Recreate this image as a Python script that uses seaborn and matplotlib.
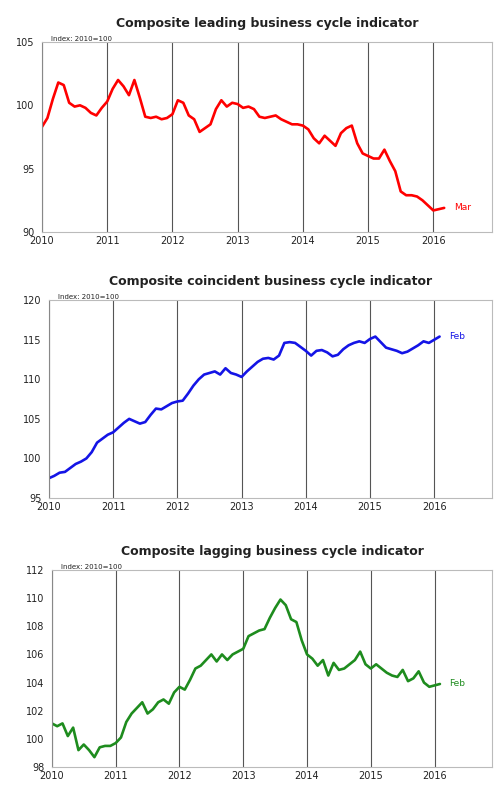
import numpy as np
import pandas as pd
import matplotlib
matplotlib.use('Agg')
import matplotlib.pyplot as plt
import seaborn as sns

# Aylık değerler, Ocak 2010'dan başlayarak
leading = [98.3, 99.0, 100.5, 101.8, 101.6, 100.2, 99.9, 100.0, 99.8, 99.4, 99.2, 99.8,
           100.3, 101.3, 102.0, 101.5, 100.8, 102.0, 100.6, 99.1, 99.0, 99.1, 98.9, 99.0,
           99.3, 100.4, 100.2, 99.2, 98.9, 97.9, 98.2, 98.5, 99.7, 100.4, 99.9, 100.2,
           100.1, 99.8, 99.9, 99.7, 99.1, 99.0, 99.1, 99.2, 98.9, 98.7, 98.5, 98.5,
           98.4, 98.1, 97.4, 97.0, 97.6, 97.2, 96.8, 97.8, 98.2, 98.4, 97.0, 96.2,
           96.0, 95.8, 95.8, 96.5, 95.6, 94.8, 93.2, 92.9, 92.9, 92.8, 92.5, 92.1,
           91.7, 91.8, 91.9]

coincident = [97.5, 97.8, 98.2, 98.3, 98.8, 99.3, 99.6, 100.0, 100.8, 102.0, 102.5, 103.0,
              103.3, 103.9, 104.5, 105.0, 104.7, 104.4, 104.6, 105.5, 106.3, 106.2, 106.6, 107.0,
              107.2, 107.3, 108.2, 109.2, 110.0, 110.6, 110.8, 111.0, 110.6, 111.4, 110.8, 110.6,
              110.3, 111.0, 111.6, 112.2, 112.6, 112.7, 112.5, 113.0, 114.6, 114.7, 114.6, 114.1,
              113.6, 113.0, 113.6, 113.7, 113.4, 112.9, 113.1, 113.8, 114.3, 114.6, 114.8, 114.6,
              115.1, 115.4, 114.7, 114.0, 113.8, 113.6, 113.3, 113.5, 113.9, 114.3, 114.8, 114.6,
              115.0, 115.4]

lagging = [101.1, 100.9, 101.1, 100.2, 100.8, 99.2, 99.6, 99.2, 98.7, 99.4, 99.5, 99.5,
           99.7, 100.1, 101.2, 101.8, 102.2, 102.6, 101.8, 102.1, 102.6, 102.8, 102.5, 103.3,
           103.7, 103.5, 104.2, 105.0, 105.2, 105.6, 106.0, 105.5, 106.0, 105.6, 106.0, 106.2,
           106.4, 107.3, 107.5, 107.7, 107.8, 108.6, 109.3, 109.9, 109.5, 108.5, 108.3, 107.0,
           106.0, 105.7, 105.2, 105.6, 104.5, 105.4, 104.9, 105.0, 105.3, 105.6, 106.2, 105.3,
           105.0, 105.3, 105.0, 104.7, 104.5, 104.4, 104.9, 104.1, 104.3, 104.8, 104.0, 103.7,
           103.8, 103.9]

years = list(range(2010, 2017))

panels = [
    ('Composite leading business cycle indicator', leading, '#ff0000', 'Mar',
     [90, 95, 100, 105], (90, 105), [0.085, 0.7045, 0.911, 0.242]),
    ('Composite coincident business cycle indicator', coincident, '#1414e6', 'Feb',
     [95, 100, 105, 110, 115, 120], (95, 120), [0.099, 0.3656, 0.897, 0.252]),
    ('Composite lagging business cycle indicator', lagging, '#1e8c1e', 'Feb',
     [98, 100, 102, 104, 106, 108, 110, 112], (98, 112), [0.105, 0.0229, 0.891, 0.251]),
]

sns.set_style('white')
plt.rcParams['font.family'] = ['DejaVu Sans']

fig = plt.figure(figsize=(4.94, 7.85), dpi=100)

for title, vals, color, last_lbl, yt, ylim, pos in panels:
    ax = fig.add_axes(pos)
    df = pd.DataFrame({'t': 2010 + np.arange(len(vals)) / 12, 'v': vals})
    for y in years:
        ax.axvline(y, color='#555555', lw=0.8, zorder=0)
    sns.lineplot(data=df, x='t', y='v', color=color, lw=1.9, ax=ax)
    ax.text(df['t'].iloc[-1] + 0.15, df['v'].iloc[-1], last_lbl, color=color,
            fontsize=6.5, va='center', ha='left')
    ax.set_xlim(2010, 2016.9)
    ax.set_ylim(*ylim)
    ax.set_xticks(years)
    ax.set_xticklabels([str(y) for y in years])
    ax.set_yticks(yt)
    ax.set_xlabel('')
    ax.set_ylabel('')
    ax.tick_params(axis='both', labelsize=7, colors='#222222', length=2, width=0.6)
    ax.tick_params(axis='x', pad=1)
    for s in ax.spines.values():
        s.set_color('#bbbbbb')
        s.set_linewidth(0.8)
    ax.spines['left'].set_color('#888888')
    ax.text(0.02, 1.0, 'Index: 2010=100', transform=ax.transAxes, fontsize=5,
            va='bottom', ha='left', color='#222222')
    ax.set_title(title, fontsize=9, fontweight='bold', color='#222222', pad=11)

fig.savefig('out.png', dpi=100)
